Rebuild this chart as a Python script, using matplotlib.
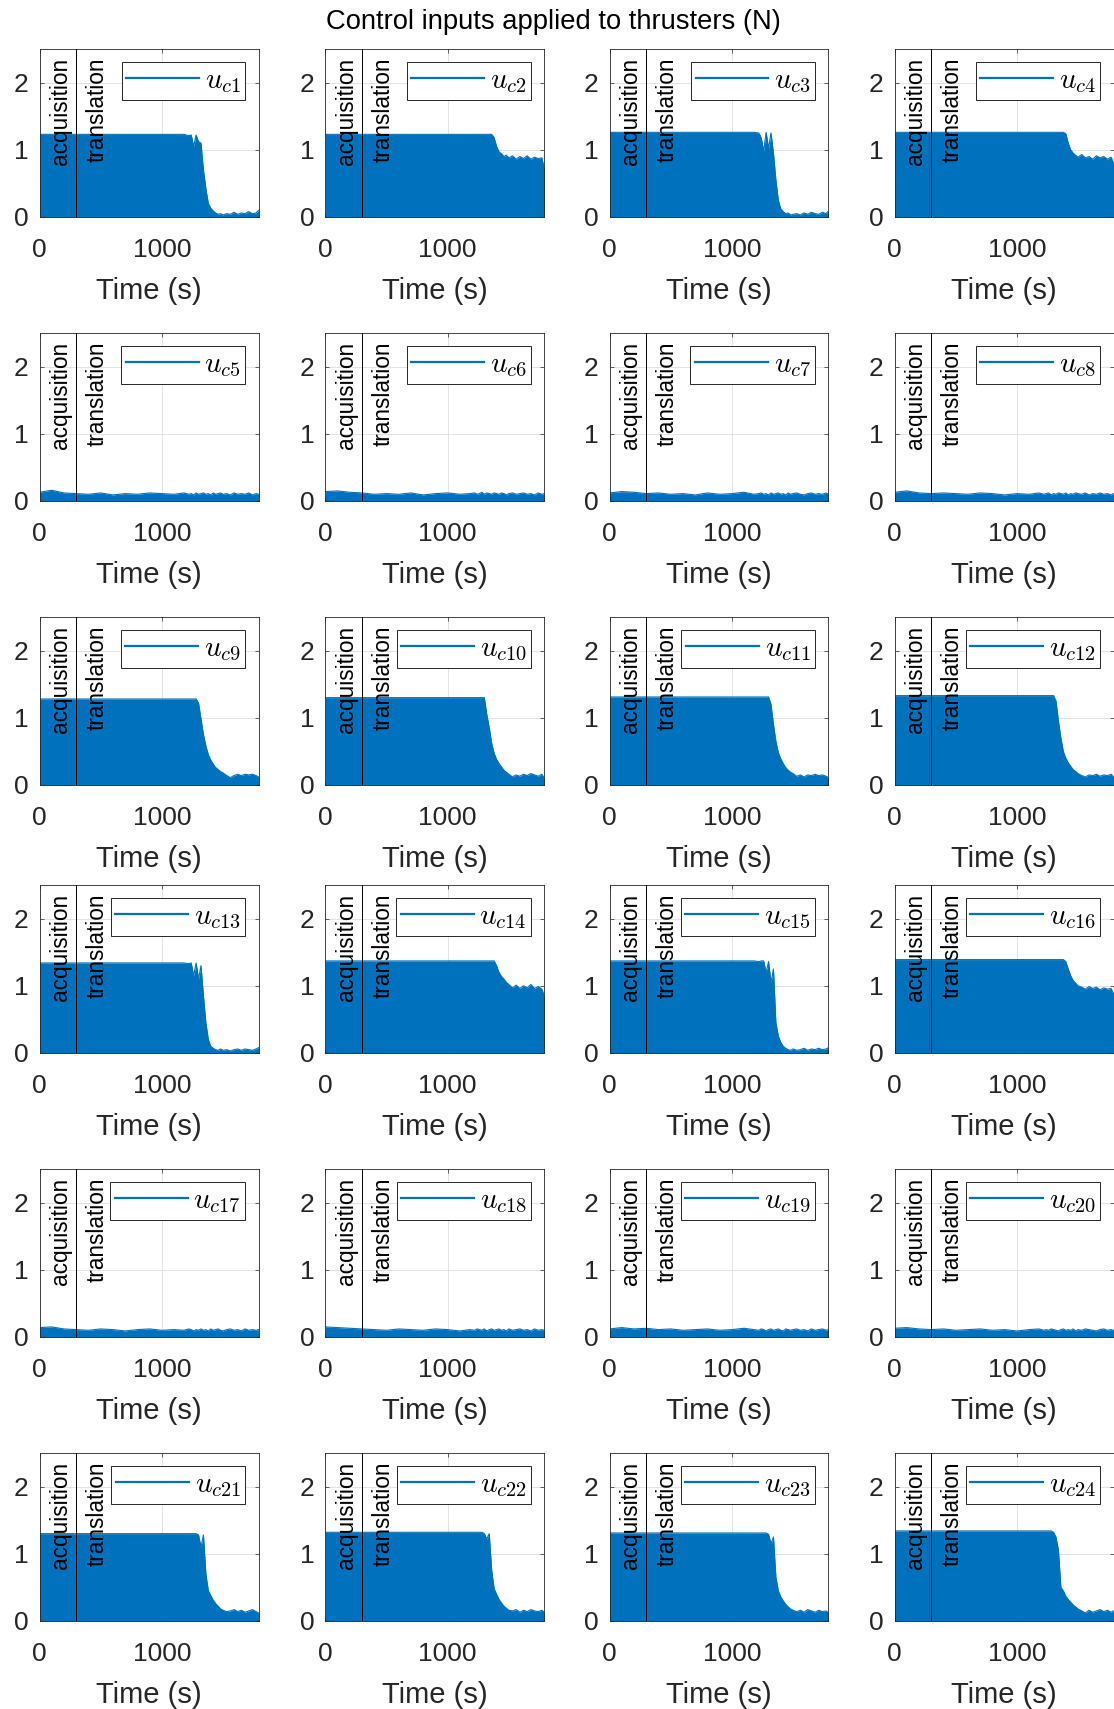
import matplotlib
matplotlib.use("Agg")
import matplotlib.pyplot as plt

plt.rcParams['font.family'] = ['Liberation Sans', 'DejaVu Sans']
plt.rcParams['mathtext.fontset'] = 'cm'

#### data: upper envelope of each thruster command (N) ####
# the command switches between 0 and this envelope, so the area below it is filled
T_KNOTS = [0, 100, 200, 300, 400, 500, 600, 700, 800, 900, 1000, 1100,
           1180, 1220, 1240, 1260, 1280, 1300, 1320, 1340, 1360, 1380, 1400,
           1420, 1440, 1460, 1480, 1500, 1530, 1560, 1590, 1620, 1650, 1680,
           1710, 1740, 1770, 1790]

UC1 = [1.23, 1.23, 1.23, 1.23, 1.23, 1.23, 1.23, 1.23, 1.23, 1.23, 1.23, 1.23,
       1.23, 1.21, 1.22, 1.05, 1.22, 1.12, 1.10, 0.70, 0.42, 0.20, 0.13,
       0.09, 0.06, 0.04, 0.05, 0.03, 0.05, 0.04, 0.07, 0.04, 0.06, 0.05,
       0.08, 0.05, 0.06, 0.10]
UC2 = [1.23, 1.23, 1.23, 1.23, 1.23, 1.23, 1.23, 1.23, 1.23, 1.23, 1.23, 1.23,
       1.23, 1.23, 1.23, 1.23, 1.23, 1.23, 1.23, 1.23, 1.23, 1.18, 1.05,
       0.97, 0.94, 0.90, 0.92, 0.88, 0.91, 0.86, 0.90, 0.87, 0.91, 0.86,
       0.89, 0.87, 0.88, 0.72]
UC3 = [1.26, 1.26, 1.26, 1.26, 1.26, 1.26, 1.26, 1.26, 1.26, 1.26, 1.26, 1.26,
       1.26, 1.25, 1.18, 0.98, 1.26, 1.02, 1.25, 0.95, 0.55, 0.25, 0.12,
       0.08, 0.05, 0.06, 0.03, 0.04, 0.05, 0.03, 0.06, 0.04, 0.07, 0.05,
       0.04, 0.07, 0.05, 0.09]
UC4 = [1.26, 1.26, 1.26, 1.26, 1.26, 1.26, 1.26, 1.26, 1.26, 1.26, 1.26, 1.26,
       1.26, 1.26, 1.26, 1.26, 1.26, 1.26, 1.26, 1.26, 1.26, 1.26, 1.24,
       1.10, 1.00, 0.95, 0.92, 0.89, 0.93, 0.88, 0.90, 0.86, 0.91, 0.88,
       0.90, 0.86, 0.89, 0.80]
UC5 = [0.13, 0.16, 0.12, 0.11, 0.10, 0.12, 0.09, 0.11, 0.10, 0.12, 0.11, 0.10,
       0.12, 0.10, 0.11, 0.09, 0.12, 0.10, 0.11, 0.12, 0.10, 0.11, 0.09,
       0.12, 0.10, 0.11, 0.12, 0.10, 0.11, 0.09, 0.12, 0.10, 0.11, 0.10,
       0.12, 0.09, 0.11, 0.10]
UC6 = [0.14, 0.15, 0.13, 0.12, 0.10, 0.11, 0.10, 0.12, 0.09, 0.11, 0.12, 0.10,
       0.11, 0.12, 0.10, 0.11, 0.13, 0.10, 0.12, 0.11, 0.10, 0.12, 0.11,
       0.10, 0.12, 0.11, 0.09, 0.11, 0.12, 0.10, 0.11, 0.12, 0.10, 0.11,
       0.09, 0.12, 0.10, 0.11]
UC7 = [0.12, 0.14, 0.13, 0.11, 0.12, 0.10, 0.11, 0.09, 0.12, 0.10, 0.11, 0.13,
       0.10, 0.11, 0.12, 0.10, 0.11, 0.09, 0.12, 0.10, 0.11, 0.12, 0.10,
       0.11, 0.09, 0.12, 0.10, 0.11, 0.12, 0.10, 0.09, 0.11, 0.12, 0.10,
       0.11, 0.10, 0.12, 0.10]
UC8 = [0.13, 0.15, 0.12, 0.11, 0.12, 0.11, 0.10, 0.12, 0.11, 0.09, 0.11, 0.10,
       0.12, 0.10, 0.11, 0.12, 0.09, 0.11, 0.10, 0.12, 0.11, 0.10, 0.12,
       0.09, 0.11, 0.10, 0.12, 0.11, 0.10, 0.12, 0.09, 0.11, 0.10, 0.12,
       0.10, 0.11, 0.09, 0.11]
UC9 = [1.28, 1.28, 1.28, 1.28, 1.28, 1.28, 1.28, 1.28, 1.28, 1.28, 1.28, 1.28,
       1.28, 1.28, 1.28, 1.28, 1.28, 1.22, 0.98, 0.75, 0.58, 0.45, 0.37,
       0.31, 0.26, 0.23, 0.20, 0.18, 0.14, 0.11, 0.14, 0.16, 0.14, 0.16,
       0.15, 0.16, 0.14, 0.12]
UC10 = [1.30, 1.30, 1.30, 1.30, 1.30, 1.30, 1.30, 1.30, 1.30, 1.30, 1.30, 1.30,
        1.30, 1.30, 1.30, 1.30, 1.30, 1.30, 1.05, 0.85, 0.62, 0.47, 0.38,
        0.32, 0.27, 0.22, 0.19, 0.16, 0.12, 0.15, 0.13, 0.16, 0.14, 0.17,
        0.15, 0.13, 0.16, 0.10]
UC11 = [1.31, 1.31, 1.31, 1.31, 1.31, 1.31, 1.31, 1.31, 1.31, 1.31, 1.31, 1.31,
        1.31, 1.31, 1.31, 1.31, 1.31, 1.31, 1.20, 0.90, 0.65, 0.48, 0.39,
        0.32, 0.26, 0.22, 0.19, 0.17, 0.13, 0.15, 0.12, 0.15, 0.14, 0.16,
        0.14, 0.15, 0.13, 0.11]
UC12 = [1.33, 1.33, 1.33, 1.33, 1.33, 1.33, 1.33, 1.33, 1.33, 1.33, 1.33, 1.33,
        1.33, 1.33, 1.33, 1.33, 1.33, 1.33, 1.25, 0.95, 0.70, 0.50, 0.40,
        0.33, 0.28, 0.23, 0.20, 0.17, 0.14, 0.12, 0.15, 0.14, 0.16, 0.13,
        0.15, 0.14, 0.16, 0.12]
UC13 = [1.34, 1.34, 1.34, 1.34, 1.34, 1.34, 1.34, 1.34, 1.34, 1.34, 1.34, 1.34,
        1.34, 1.33, 1.34, 1.15, 1.34, 1.10, 1.30, 0.85, 0.45, 0.20, 0.10,
        0.07, 0.05, 0.04, 0.06, 0.04, 0.05, 0.03, 0.05, 0.06, 0.04, 0.06,
        0.05, 0.04, 0.06, 0.08]
UC14 = [1.37, 1.37, 1.37, 1.37, 1.37, 1.37, 1.37, 1.37, 1.37, 1.37, 1.37, 1.37,
        1.37, 1.37, 1.37, 1.37, 1.37, 1.37, 1.37, 1.37, 1.37, 1.37, 1.30,
        1.20, 1.14, 1.10, 1.05, 1.02, 0.97, 1.01, 0.96, 1.00, 0.97, 1.02,
        0.96, 0.99, 0.95, 0.85]
UC15 = [1.37, 1.37, 1.37, 1.37, 1.37, 1.37, 1.37, 1.37, 1.37, 1.37, 1.37, 1.37,
        1.37, 1.36, 1.37, 1.37, 1.20, 1.36, 1.05, 1.25, 0.45, 0.25, 0.16,
        0.10, 0.07, 0.05, 0.04, 0.06, 0.04, 0.05, 0.07, 0.04, 0.06, 0.05,
        0.07, 0.05, 0.06, 0.08]
UC16 = [1.39, 1.39, 1.39, 1.39, 1.39, 1.39, 1.39, 1.39, 1.39, 1.39, 1.39, 1.39,
        1.39, 1.39, 1.39, 1.39, 1.39, 1.39, 1.39, 1.39, 1.39, 1.39, 1.36,
        1.25, 1.15, 1.08, 1.04, 1.00, 0.98, 0.95, 0.99, 0.96, 0.98, 0.94,
        0.97, 0.95, 0.96, 0.88]
UC17 = [0.14, 0.15, 0.12, 0.11, 0.10, 0.12, 0.11, 0.09, 0.11, 0.12, 0.10, 0.11,
        0.10, 0.12, 0.11, 0.09, 0.11, 0.10, 0.12, 0.10, 0.11, 0.09, 0.12,
        0.10, 0.11, 0.12, 0.10, 0.09, 0.11, 0.12, 0.10, 0.11, 0.09, 0.12,
        0.10, 0.11, 0.10, 0.11]
UC18 = [0.15, 0.14, 0.13, 0.12, 0.11, 0.10, 0.12, 0.11, 0.10, 0.12, 0.11, 0.09,
        0.11, 0.10, 0.12, 0.11, 0.10, 0.12, 0.09, 0.11, 0.12, 0.10, 0.11,
        0.12, 0.10, 0.11, 0.09, 0.12, 0.10, 0.11, 0.12, 0.10, 0.11, 0.09,
        0.12, 0.10, 0.11, 0.10]
UC19 = [0.12, 0.14, 0.12, 0.13, 0.11, 0.12, 0.10, 0.11, 0.12, 0.10, 0.11, 0.13,
        0.11, 0.10, 0.12, 0.11, 0.09, 0.11, 0.12, 0.10, 0.11, 0.12, 0.10,
        0.09, 0.12, 0.11, 0.10, 0.11, 0.12, 0.10, 0.11, 0.09, 0.12, 0.10,
        0.11, 0.12, 0.10, 0.11]
UC20 = [0.13, 0.14, 0.12, 0.11, 0.12, 0.10, 0.11, 0.12, 0.10, 0.11, 0.09, 0.11,
        0.12, 0.10, 0.11, 0.10, 0.12, 0.11, 0.10, 0.09, 0.11, 0.12, 0.10,
        0.11, 0.10, 0.12, 0.09, 0.11, 0.10, 0.12, 0.11, 0.10, 0.09, 0.11,
        0.12, 0.10, 0.11, 0.10]
UC21 = [1.30, 1.30, 1.30, 1.30, 1.30, 1.30, 1.30, 1.30, 1.30, 1.30, 1.30, 1.30,
        1.30, 1.30, 1.30, 1.30, 1.30, 1.28, 1.10, 1.28, 0.70, 0.45, 0.38,
        0.31, 0.26, 0.22, 0.18, 0.16, 0.14, 0.15, 0.17, 0.14, 0.16, 0.13,
        0.15, 0.17, 0.14, 0.12]
UC22 = [1.32, 1.32, 1.32, 1.32, 1.32, 1.32, 1.32, 1.32, 1.32, 1.32, 1.32, 1.32,
        1.32, 1.32, 1.32, 1.32, 1.32, 1.30, 1.22, 1.30, 0.75, 0.48, 0.40,
        0.32, 0.27, 0.22, 0.19, 0.16, 0.15, 0.17, 0.13, 0.16, 0.14, 0.17,
        0.15, 0.14, 0.16, 0.13]
UC23 = [1.31, 1.31, 1.31, 1.31, 1.31, 1.31, 1.31, 1.31, 1.31, 1.31, 1.31, 1.31,
        1.31, 1.31, 1.31, 1.31, 1.31, 1.29, 1.15, 1.25, 0.65, 0.45, 0.36,
        0.30, 0.25, 0.21, 0.18, 0.16, 0.14, 0.16, 0.13, 0.17, 0.15, 0.13,
        0.16, 0.14, 0.15, 0.12]
UC24 = [1.34, 1.34, 1.34, 1.34, 1.34, 1.34, 1.34, 1.34, 1.34, 1.34, 1.34, 1.34,
        1.34, 1.34, 1.34, 1.34, 1.34, 1.32, 1.25, 1.05, 0.50, 0.45, 0.37,
        0.32, 0.28, 0.24, 0.21, 0.18, 0.15, 0.12, 0.16, 0.13, 0.15, 0.17,
        0.14, 0.16, 0.13, 0.15]

SERIES = [UC1, UC2, UC3, UC4, UC5, UC6, UC7, UC8, UC9, UC10, UC11, UC12,
          UC13, UC14, UC15, UC16, UC17, UC18, UC19, UC20, UC21, UC22, UC23, UC24]
LABELS = [r'$u_{c%d}$' % (i + 1) for i in range(24)]
T_SWITCH = 300          # end of acquisition phase (s)
X_MAX = 1790
Y_TICKS = [0, 1, 2]
X_TICKS = [0, 1000]
TITLE = 'Control inputs applied to thrusters (N)'

#### layout (pixels of the 1114x1709 figure) ####
FIG_W, FIG_H = 1114, 1709
COL_LEFT = [39.5, 325.3, 609.5, 894.5]
ROW_BOTTOM = [217, 501, 785, 1053, 1337, 1621]
AX_W, AX_H = 219, 168
BLUE = '#0072BD'
DARK = '#262626'

fig = plt.figure(figsize=(FIG_W/100, FIG_H/100), dpi=100)

for k, u in enumerate(SERIES):
    r, c = divmod(k, 4)
    ax = fig.add_axes([COL_LEFT[c]/FIG_W, 1 - ROW_BOTTOM[r]/FIG_H, AX_W/FIG_W, AX_H/FIG_H])
    ax.fill_between(T_KNOTS, 0, u, color=BLUE, lw=0, zorder=2)
    ax.plot(T_KNOTS, u, color=BLUE, lw=0.8, zorder=2, label=LABELS[k])
    ax.axvline(T_SWITCH, color='k', lw=0.7, zorder=3)
    ax.text(170, 2.37, 'acquisition', rotation=90, ha='center', va='top', fontsize=16.3, color='k', zorder=4)
    ax.text(475, 2.37, 'translation', rotation=90, ha='center', va='top', fontsize=16.3, color='k', zorder=4)
    ax.set_xlim(0, X_MAX)
    ax.set_ylim(0, 2.5)
    ax.set_xticks(X_TICKS)
    ax.set_yticks(Y_TICKS)
    ax.grid(True, color='#dedede', lw=0.6, zorder=0)
    ax.set_axisbelow(True)
    ax.tick_params(direction='in', length=3, width=0.5, top=True, right=True,
                   labelsize=19, colors=DARK)
    ax.tick_params(axis='x', pad=15)
    ax.tick_params(axis='y', pad=8)
    for s in ax.spines.values():
        s.set_linewidth(0.6)
        s.set_color(DARK)
    ax.set_xlabel('Time (s)', fontsize=21, color=DARK, labelpad=11)
    leg = ax.legend(loc='upper right', fontsize=21, handlelength=2.5, handletextpad=0.2,
                    borderpad=0.15, borderaxespad=0.45, fancybox=False, framealpha=1,
                    edgecolor=DARK)
    leg.get_frame().set_linewidth(0.7)
    for ln in leg.get_lines():
        ln.set_linewidth(1.6)

fig.text(553/FIG_W, 1 - 22/FIG_H, TITLE, ha='center', va='center', fontsize=19.7, color='k')

fig.savefig('out.png', dpi=100)
